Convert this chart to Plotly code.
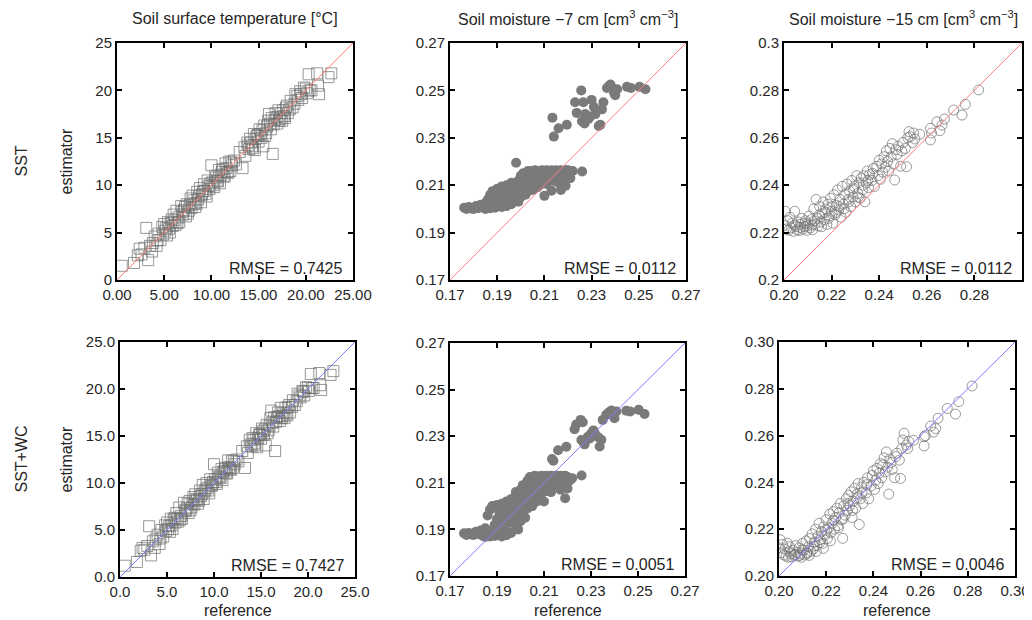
import plotly.graph_objs as go

# the page body adds an 8 px margin, so the figure is drawn 8 px in from the window corner
OFF = 8
W, H = 1032 - OFF, 620 - OFF

# soil surface temperature [degC]
temp_ref = [0.5, 1.8, 2.4, 2.6, 2.9, 3.1, 3.3, 3.5, 3.8, 4.0, 4.2, 4.4, 4.6, 4.8, 4.9, 5.0, 5.1, 5.3, 5.4, 5.5,
            5.6, 5.8, 5.9, 6.0, 6.2, 6.3, 6.5, 6.6, 6.8, 7.0, 7.1, 7.3, 7.4, 7.6, 7.8, 7.9, 8.0, 8.2, 8.3, 8.5,
            8.6, 8.8, 8.9, 9.0, 9.2, 9.3, 9.5, 9.6, 9.8, 10.0, 10.1, 10.3, 10.4, 10.6, 10.8, 10.9, 11.0, 11.2, 11.4, 11.5,
            11.7, 11.9, 12.0, 12.2, 12.4, 12.6, 13.0, 13.3, 13.5, 13.6, 13.8, 14.0, 14.1, 14.3, 14.5, 14.6, 14.8, 15.0, 15.1, 15.3,
            15.5, 15.6, 15.8, 16.0, 16.1, 16.3, 16.4, 16.5, 16.6, 16.8, 17.0, 17.1, 17.3, 17.5, 17.7, 17.9, 18.1, 18.4, 18.6, 18.9,
            19.2, 19.4, 19.6, 19.8, 20.1, 20.3, 20.6, 21.2, 21.3, 21.4, 22.4, 22.7,
            5.2, 5.7, 6.1, 6.4, 6.9, 7.2, 7.5, 7.7, 8.1, 8.4, 8.7, 9.1, 9.4, 9.7, 9.9, 10.2, 10.5, 10.7, 11.1, 11.3,
            11.6, 11.8, 12.1, 13.9, 14.2, 14.4, 14.7, 14.9, 15.2, 15.4, 15.7, 15.9, 16.2, 16.7, 16.9, 17.2, 17.4, 17.6, 17.8, 18.0,
            18.3, 18.8, 19.1, 19.5, 20.0, 20.4, 3.7, 4.3, 2.2]
temp_est_sst = [1.5, 1.8, 3.3, 2.7, 3.4, 5.5, 2.1, 3.6, 3.9, 4.6, 3.6, 4.9, 4.2, 5.6, 4.8, 5.9, 5.2, 4.7, 6.1, 5.4,
                5.0, 6.4, 5.7, 6.9, 5.8, 7.3, 6.6, 6.1, 7.8, 6.9, 7.4, 6.7, 8.0, 7.3, 8.6, 7.6, 8.9, 8.1, 7.7, 9.3,
                8.5, 9.7, 8.2, 9.0, 10.1, 9.4, 8.8, 10.5, 9.6, 12.1, 10.3, 9.8, 11.0, 10.5, 11.6, 10.2, 11.1, 11.7, 10.9, 12.3,
                11.4, 12.5, 11.5, 12.1, 12.6, 12.2, 13.5, 11.8, 14.0, 13.1, 14.5, 13.8, 14.9, 14.1, 15.4, 13.7, 15.2, 14.6, 15.9, 15.0,
                14.1, 16.3, 15.5, 16.8, 17.5, 15.9, 17.1, 13.3, 16.4, 17.6, 16.5, 17.9, 17.0, 16.8, 17.3, 18.2, 17.6, 18.9, 18.2, 19.6,
                19.0, 19.9, 19.2, 20.3, 19.7, 21.7, 20.0, 21.8, 20.5, 19.6, 21.4, 21.8,
                5.5, 6.0, 6.3, 6.0, 7.2, 7.7, 7.0, 7.9, 8.4, 8.0, 8.9, 9.4, 9.1, 9.9, 10.2, 10.0, 10.8, 10.4, 11.4, 11.0,
                11.8, 11.3, 12.4, 14.2, 14.5, 13.9, 14.9, 15.3, 15.4, 15.8, 15.2, 16.2, 16.5, 16.9, 17.2, 16.8, 17.6, 17.9, 17.1, 18.4,
                18.0, 18.6, 19.4, 19.6, 20.2, 20.0, 3.0, 4.2, 2.6]
temp_est_wc = [1.2, 1.6, 3.1, 2.9, 3.3, 5.4, 2.3, 3.8, 4.0, 4.5, 3.5, 5.0, 4.3, 5.5, 4.9, 5.8, 5.1, 4.8, 6.2, 5.5,
               5.1, 6.3, 5.8, 6.8, 5.9, 7.4, 6.5, 6.2, 7.9, 7.0, 7.3, 6.8, 8.1, 7.4, 8.5, 7.7, 8.8, 8.2, 7.8, 9.2,
               8.6, 9.8, 8.3, 9.1, 10.0, 9.5, 8.9, 10.4, 9.7, 12.0, 10.4, 9.9, 11.1, 10.6, 11.5, 10.3, 11.2, 11.6, 11.0, 12.4,
               11.5, 12.4, 11.6, 12.0, 12.5, 12.3, 13.4, 11.6, 13.9, 13.2, 14.6, 13.9, 14.8, 14.2, 15.3, 13.8, 15.1, 14.7, 15.8, 15.1,
               14.0, 16.2, 15.6, 16.9, 17.7, 16.0, 17.0, 13.4, 16.5, 17.5, 16.6, 18.0, 17.1, 16.9, 17.4, 18.1, 17.5, 18.8, 18.3, 19.5,
               19.1, 19.8, 19.3, 20.2, 19.8, 21.6, 20.1, 21.7, 20.4, 19.9, 21.5, 21.9,
               5.4, 6.1, 6.2, 6.1, 7.1, 7.8, 7.1, 7.8, 8.3, 8.1, 8.8, 9.3, 9.2, 9.8, 10.1, 10.1, 10.7, 10.5, 11.3, 11.1,
               11.7, 11.4, 12.3, 14.1, 14.6, 14.0, 14.8, 15.2, 15.5, 15.7, 15.3, 16.1, 16.4, 17.0, 17.1, 16.9, 17.5, 18.0, 17.2, 18.3,
               18.1, 18.7, 19.3, 19.7, 20.1, 20.1, 3.1, 4.1, 2.8]

# soil moisture -7 cm [cm3 cm-3]
sm7_ref = [0.176, 0.177, 0.178, 0.179, 0.180, 0.181, 0.182, 0.183, 0.184, 0.185, 0.185, 0.186, 0.186, 0.187, 0.187,
           0.188, 0.188, 0.189, 0.189, 0.190, 0.190, 0.190, 0.191, 0.191, 0.192, 0.192, 0.192, 0.193, 0.193, 0.194,
           0.194, 0.194, 0.195, 0.195, 0.196, 0.196, 0.196, 0.197, 0.197, 0.198, 0.198, 0.198, 0.199, 0.199, 0.199,
           0.200, 0.200, 0.200, 0.201, 0.201, 0.201, 0.202, 0.202, 0.202, 0.203, 0.203, 0.203, 0.204, 0.204, 0.204,
           0.205, 0.205, 0.205, 0.206, 0.206, 0.206, 0.207, 0.207, 0.207, 0.208, 0.208, 0.208, 0.209, 0.209, 0.209,
           0.210, 0.210, 0.210, 0.211, 0.211, 0.211, 0.212, 0.212, 0.213, 0.213, 0.213, 0.214, 0.214, 0.215, 0.215,
           0.216, 0.216, 0.217, 0.217, 0.217, 0.218, 0.218, 0.219, 0.219, 0.220, 0.220, 0.221, 0.222, 0.226,
           0.2134, 0.2140, 0.2160, 0.2195, 0.2230, 0.2237, 0.2256, 0.2259, 0.2265, 0.2270, 0.2273, 0.2287, 0.2295, 0.2300,
           0.2310, 0.2316, 0.2330, 0.2337, 0.2344, 0.2350, 0.2365, 0.2375, 0.2387, 0.2395, 0.2400, 0.2408, 0.2380, 0.2450,
           0.2467, 0.2503, 0.2528]
sm7_est_sst = [0.2005, 0.2000, 0.2008, 0.2002, 0.2000, 0.2012, 0.2003, 0.2018, 0.2007, 0.2000, 0.2025, 0.2012, 0.2040, 0.2003, 0.2060,
               0.2020, 0.2075, 0.2035, 0.2005, 0.2050, 0.2085, 0.2010, 0.2028, 0.2068, 0.2040, 0.2095, 0.2008, 0.2055, 0.2080, 0.2030,
               0.2100, 0.2012, 0.2065, 0.2045, 0.2088, 0.2020, 0.2110, 0.2058, 0.2075, 0.2040, 0.2098, 0.2195, 0.2120, 0.2030, 0.2065,
               0.2085, 0.2140, 0.2050, 0.2105, 0.2070, 0.2150, 0.2128, 0.2090, 0.2060, 0.2160, 0.2110, 0.2075, 0.2135, 0.2095, 0.2160,
               0.2120, 0.2080, 0.2150, 0.2100, 0.2163, 0.2138, 0.2115, 0.2090, 0.2160, 0.2145, 0.2125, 0.2100, 0.2163, 0.2110, 0.2135,
               0.2150, 0.2055, 0.2120, 0.2163, 0.2138, 0.2105, 0.2150, 0.2125, 0.2163, 0.2077, 0.2140, 0.2155, 0.2118, 0.2163, 0.2135,
               0.2150, 0.2110, 0.2163, 0.2080, 0.2140, 0.2155, 0.2125, 0.2163, 0.2098, 0.2148, 0.2163, 0.2130, 0.2160, 0.2158,
               0.2385, 0.2305, 0.2340, 0.2355, 0.2450, 0.2405, 0.2500, 0.2370, 0.2450, 0.2360, 0.2400, 0.2380, 0.2390, 0.2460,
               0.2430, 0.2400, 0.2350, 0.2355, 0.2420, 0.2450, 0.2510, 0.2520, 0.2510, 0.2490, 0.2480, 0.2505, 0.2525, 0.2515,
               0.2510, 0.2515, 0.2505]
sm7_est_wc = [0.1883, 0.1876, 0.1885, 0.1878, 0.1876, 0.1890, 0.1880, 0.1895, 0.1872, 0.1868, 0.1905, 0.1880, 0.1960, 0.1870, 0.1985,
              0.1895, 0.2000, 0.1920, 0.1872, 0.1945, 0.2005, 0.1880, 0.1900, 0.1975, 0.1925, 0.2010, 0.1870, 0.1955, 0.1990, 0.1895,
              0.2020, 0.1875, 0.1965, 0.1930, 0.1995, 0.1885, 0.2030, 0.1950, 0.1980, 0.1910, 0.2015, 0.2060, 0.2045, 0.1900, 0.1960,
              0.2000, 0.2070, 0.1935, 0.2035, 0.1975, 0.2090, 0.2060, 0.2010, 0.1950, 0.2110, 0.2045, 0.1990, 0.2080, 0.2025, 0.2125,
              0.2065, 0.2000, 0.2105, 0.2045, 0.2130, 0.2090, 0.2060, 0.2020, 0.2128, 0.2100, 0.2075, 0.2040, 0.2130, 0.2055, 0.2095,
              0.2115, 0.2020, 0.2080, 0.2130, 0.2105, 0.2065, 0.2125, 0.2090, 0.2130, 0.2060, 0.2110, 0.2128, 0.2095, 0.2130, 0.2115,
              0.2125, 0.2085, 0.2130, 0.2070, 0.2110, 0.2128, 0.2100, 0.2130, 0.2034, 0.2076, 0.2125, 0.2110, 0.2120, 0.2131,
              0.2202, 0.2195, 0.2240, 0.2255, 0.2330, 0.2350, 0.2370, 0.2284, 0.2360, 0.2270, 0.2265, 0.2298, 0.2290, 0.2310,
              0.2325, 0.2312, 0.2296, 0.2256, 0.2285, 0.2370, 0.2392, 0.2400, 0.2410, 0.2390, 0.2377, 0.2406, 0.2405, 0.2409,
              0.2406, 0.2413, 0.2395]

# soil moisture -15 cm [cm3 cm-3]
sm15_ref = [0.200, 0.2005, 0.201, 0.2015, 0.202, 0.2025, 0.203, 0.2035, 0.204, 0.2045, 0.205, 0.2055, 0.206, 0.2065, 0.207,
            0.2075, 0.208, 0.2085, 0.209, 0.2095, 0.210, 0.2105, 0.211, 0.2115, 0.212, 0.2125, 0.213, 0.2135, 0.214, 0.2145,
            0.215, 0.2155, 0.216, 0.2165, 0.217, 0.2175, 0.218, 0.2185, 0.219, 0.2195, 0.220, 0.2205, 0.221, 0.2215, 0.222,
            0.2225, 0.223, 0.2235, 0.224, 0.2245, 0.225, 0.2255, 0.226, 0.2265, 0.227, 0.2275, 0.228, 0.2285, 0.229, 0.2295,
            0.230, 0.2305, 0.231, 0.2315, 0.232, 0.2325, 0.233, 0.2335, 0.234, 0.2345, 0.235, 0.2355, 0.236, 0.237, 0.2375,
            0.238, 0.239, 0.2395, 0.240, 0.2405, 0.241, 0.2415, 0.242, 0.2425, 0.243, 0.2435, 0.244, 0.2445, 0.245, 0.2455,
            0.246, 0.2465, 0.247, 0.2475, 0.248, 0.249, 0.2495, 0.250, 0.251, 0.2515, 0.252, 0.2525, 0.253, 0.254, 0.2545,
            0.255, 0.257, 0.2615, 0.2615, 0.262, 0.2643, 0.2655, 0.2664, 0.2674, 0.2713, 0.2748, 0.2762, 0.2818,
            0.2045, 0.2068, 0.2088, 0.2098, 0.2118, 0.2128, 0.2148, 0.2158, 0.2172, 0.2188, 0.2202, 0.2218, 0.2232, 0.2252,
            0.2272, 0.2292, 0.2312, 0.2332, 0.2352, 0.2372]
sm15_est_sst = [0.2230, 0.2290, 0.2215, 0.2250, 0.2210, 0.2265, 0.2220, 0.2240, 0.2205, 0.2290, 0.2225, 0.2212, 0.2245, 0.2208, 0.2235,
                0.2260, 0.2215, 0.2225, 0.2250, 0.2210, 0.2238, 0.2270, 0.2220, 0.2255, 0.2212, 0.2300, 0.2235, 0.2340, 0.2260, 0.2228,
                0.2310, 0.2245, 0.2280, 0.2330, 0.2255, 0.2300, 0.2235, 0.2320, 0.2270, 0.2345, 0.2290, 0.2240, 0.2360, 0.2275, 0.2315,
                0.2380, 0.2295, 0.2340, 0.2265, 0.2395, 0.2320, 0.2360, 0.2285, 0.2405, 0.2340, 0.2375, 0.2310, 0.2420, 0.2350, 0.2395,
                0.2330, 0.2440, 0.2365, 0.2410, 0.2345, 0.2430, 0.2380, 0.2440, 0.2330, 0.2410, 0.2460, 0.2390, 0.2445, 0.2420, 0.2470,
                0.2395, 0.2480, 0.2440, 0.2505, 0.2425, 0.2490, 0.2455, 0.2520, 0.2475, 0.2545, 0.2500, 0.2460, 0.2555, 0.2520, 0.2575,
                0.2490, 0.2422, 0.2550, 0.2530, 0.2565, 0.2480, 0.2545, 0.2580, 0.2555, 0.2478, 0.2600, 0.2626, 0.2605, 0.2580, 0.2620,
                0.2595, 0.2615, 0.2591, 0.2640, 0.2620, 0.2668, 0.2630, 0.2654, 0.2679, 0.2717, 0.2696, 0.2741, 0.2802,
                0.2232, 0.2222, 0.2240, 0.2228, 0.2232, 0.2250, 0.2275, 0.2225, 0.2285, 0.2260, 0.2310, 0.2285, 0.2310, 0.2300,
                0.2330, 0.2385, 0.2350, 0.2400, 0.2420, 0.2450]
sm15_est_wc = [0.2120, 0.2155, 0.2100, 0.2135, 0.2090, 0.2115, 0.2085, 0.2140, 0.2080, 0.2125, 0.2095, 0.2082, 0.2110, 0.2088, 0.2130,
               0.2100, 0.2085, 0.2120, 0.2095, 0.2080, 0.2140, 0.2110, 0.2090, 0.2150, 0.2098, 0.2125, 0.2160, 0.2105, 0.2180, 0.2115,
               0.2145, 0.2200, 0.2130, 0.2170, 0.2225, 0.2155, 0.2190, 0.2140, 0.2210, 0.2175, 0.2240, 0.2160, 0.2205, 0.2265, 0.2185,
               0.2225, 0.2275, 0.2200, 0.2250, 0.2290, 0.2215, 0.2270, 0.2310, 0.2240, 0.2161, 0.2300, 0.2260, 0.2330, 0.2280, 0.2345,
               0.2300, 0.2360, 0.2250, 0.2320, 0.2375, 0.2290, 0.2350, 0.2395, 0.2220, 0.2330, 0.2380, 0.2310, 0.2400, 0.2355, 0.2420,
               0.2330, 0.2385, 0.2430, 0.2450, 0.2370, 0.2410, 0.2460, 0.2395, 0.2440, 0.2480, 0.2420, 0.2475, 0.2505, 0.2445, 0.2530,
               0.2465, 0.2350, 0.2500, 0.2485, 0.2455, 0.2420, 0.2510, 0.2525, 0.2495, 0.2417, 0.2545, 0.2581, 0.2610, 0.2560, 0.2545,
               0.2575, 0.2580, 0.2556, 0.2595, 0.2600, 0.2641, 0.2615, 0.2630, 0.2674, 0.2716, 0.2692, 0.2745, 0.2812,
               0.2105, 0.2092, 0.2088, 0.2112, 0.2098, 0.2088, 0.2128, 0.2105, 0.2142, 0.2118, 0.2195, 0.2150, 0.2238, 0.2205,
               0.2245, 0.2310, 0.2280, 0.2335, 0.2355, 0.2390]

rmse = [["0.7425", "0.0112", "0.0112"], ["0.7427", "0.0051", "0.0046"]]
titles = ["Soil surface temperature [°C]",
          "Soil moisture −7 cm [cm<sup>3</sup> cm<sup>−3</sup>]",
          "Soil moisture −15 cm [cm<sup>3</sup> cm<sup>−3</sup>]"]
row_labels = ["SST", "SST+WC"]

ranges = [[0, 25], [0.17, 0.27], [0.20, 0.30]]

# panel boxes in window pixels (left, right, top, bottom)
boxes = [[(117, 353, 43, 280), (450, 686, 43, 280), (784, 1022, 43, 280)],
         [(120, 355, 342, 577), (450, 685, 343, 576), (779, 1015, 342, 576)]]


def px(x):
    return (x - OFF) / W


def py(y):
    return 1 - (y - OFF) / H


FONT = "Liberation Sans, Arial, sans-serif"
TXT = "#262626"

fig = go.Figure()
layout = dict(width=W, height=H, margin=dict(l=0, r=0, t=0, b=0, autoexpand=False), showlegend=False,
              paper_bgcolor="white", plot_bgcolor="white", font=dict(family=FONT, size=15, color=TXT))
annotations = []
shapes = []

series = [[(temp_ref, temp_est_sst), (sm7_ref, sm7_est_sst), (sm15_ref, sm15_est_sst)],
          [(temp_ref, temp_est_wc), (sm7_ref, sm7_est_wc), (sm15_ref, sm15_est_wc)]]
markers = [dict(symbol="square-open", size=11, color="rgba(110,110,110,0.7)", line=dict(width=1)),
           dict(symbol="circle", size=10, color="rgb(122,122,122)"),
           dict(symbol="circle-open", size=10, color="rgba(120,120,120,0.75)", line=dict(width=1))]
line_colors = ["rgb(255,125,125)", "rgb(125,125,255)"]

tick_sets = [
    # row 0
    [dict(x=dict(tickvals=[0, 5, 10, 15, 20, 25], ticktext=["0.00", "5.00", "10.00", "15.00", "20.00", "25.00"]),
          y=dict(tickvals=[0, 5, 10, 15, 20, 25], ticktext=["0", "5", "10", "15", "20", "25"])),
     dict(x=dict(tickvals=[0.17, 0.19, 0.21, 0.23, 0.25, 0.27], ticktext=["0.17", "0.19", "0.21", "0.23", "0.25", "0.27"]),
          y=dict(tickvals=[0.17, 0.19, 0.21, 0.23, 0.25, 0.27], ticktext=["0.17", "0.19", "0.21", "0.23", "0.25", "0.27"])),
     dict(x=dict(tickvals=[0.20, 0.22, 0.24, 0.26, 0.28, 0.30], ticktext=["0.20", "0.22", "0.24", "0.26", "0.28", "0.30"]),
          y=dict(tickvals=[0.20, 0.22, 0.24, 0.26, 0.28, 0.30], ticktext=["0.2", "0.22", "0.24", "0.26", "0.28", "0.3"]))],
    # row 1
    [dict(x=dict(tickvals=[0, 5, 10, 15, 20, 25], ticktext=["0.0", "5.0", "10.0", "15.0", "20.0", "25.0"]),
          y=dict(tickvals=[0, 5, 10, 15, 20, 25], ticktext=["0.0", "5.0", "10.0", "15.0", "20.0", "25.0"])),
     dict(x=dict(tickvals=[0.17, 0.19, 0.21, 0.23, 0.25, 0.27], ticktext=["0.17", "0.19", "0.21", "0.23", "0.25", "0.27"]),
          y=dict(tickvals=[0.17, 0.19, 0.21, 0.23, 0.25, 0.27], ticktext=["0.17", "0.19", "0.21", "0.23", "0.25", "0.27"])),
     dict(x=dict(tickvals=[0.20, 0.22, 0.24, 0.26, 0.28, 0.30], ticktext=["0.20", "0.22", "0.24", "0.26", "0.28", "0.30"]),
          y=dict(tickvals=[0.20, 0.22, 0.24, 0.26, 0.28, 0.30], ticktext=["0.20", "0.22", "0.24", "0.26", "0.28", "0.30"]))],
]

n = 0
for r in range(2):
    for c in range(3):
        n += 1
        sfx = "" if n == 1 else str(n)
        xa, ya = "x" + sfx, "y" + sfx
        left, right, top, bottom = boxes[r][c]
        ref, est = series[r][c]
        fig.add_trace(go.Scatter(x=ref, y=est, mode="markers", marker=markers[c], xaxis=xa, yaxis=ya,
                                 hoverinfo="skip"))
        # 1:1 line across the whole panel
        shapes.append(dict(type="line", xref=xa + " domain", yref=ya + " domain", x0=0, y0=0, x1=1, y1=1,
                           line=dict(color=line_colors[r], width=1), layer="above"))
        common = dict(showgrid=False, zeroline=False, showline=True, linecolor="black", linewidth=2,
                      mirror="ticks", ticks="inside", ticklen=5, tickwidth=1.5, tickcolor="black",
                      automargin=False, tickfont=dict(family=FONT, size=15, color=TXT))
        layout["xaxis" + sfx] = dict(common, domain=[px(left), px(right)], range=ranges[c], anchor=ya,
                                     tickmode="array", **tick_sets[r][c]["x"])
        layout["yaxis" + sfx] = dict(common, domain=[py(bottom), py(top)], range=ranges[c], anchor=xa,
                                     tickmode="array", **tick_sets[r][c]["y"])
        annotations.append(dict(text="RMSE = " + rmse[r][c], xref=xa + " domain", yref=ya + " domain",
                                x=0.965, y=0.005, xanchor="right", yanchor="bottom", showarrow=False,
                                font=dict(family=FONT, size=16, color=TXT)))
        if r == 0:
            annotations.append(dict(text=titles[c], xref="paper", yref="paper", x=px((left + right) / 2),
                                    y=py(18), xanchor="center", yanchor="middle", showarrow=False,
                                    font=dict(family=FONT, size=16, color=TXT)))
        if r == 1:
            annotations.append(dict(text="reference", xref="paper", yref="paper", x=px((left + right) / 2),
                                    y=py(610), xanchor="center", yanchor="middle", showarrow=False,
                                    font=dict(family=FONT, size=16, color=TXT)))
        if c == 0:
            annotations.append(dict(text="estimator", xref="paper", yref="paper", x=px(66),
                                    y=py((top + bottom) / 2), xanchor="center", yanchor="middle",
                                    textangle=-90, showarrow=False, font=dict(family=FONT, size=16, color=TXT)))
            annotations.append(dict(text=row_labels[r], xref="paper", yref="paper", x=px(21),
                                    y=py((top + bottom) / 2), xanchor="center", yanchor="middle",
                                    textangle=-90, showarrow=False, font=dict(family=FONT, size=16, color=TXT)))

layout["annotations"] = annotations
layout["shapes"] = shapes
fig.update_layout(**layout)
fig.write_html("out.html")
